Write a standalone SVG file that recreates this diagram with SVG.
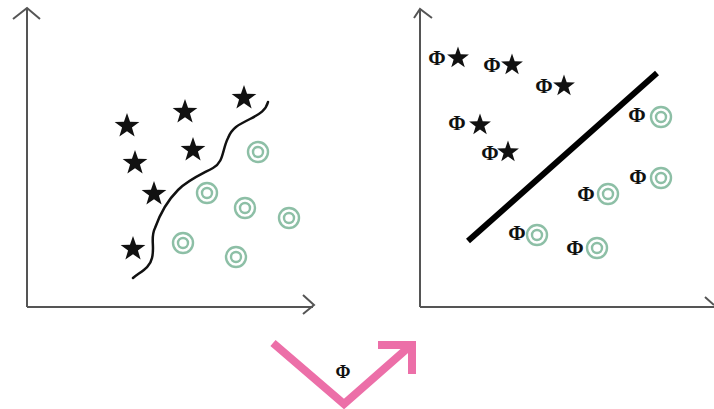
<svg xmlns="http://www.w3.org/2000/svg" width="714" height="409" viewBox="0 0 714 409">
<defs>
<style>
.axis{fill:none;stroke:#555;stroke-width:2;}
.circ{fill:none;stroke:#8dbfa6;stroke-width:2.4;}
.phi{font-family:"Liberation Serif","DejaVu Serif",serif;font-size:21px;font-weight:bold;fill:#111;text-anchor:middle;}
.star{fill:#111;}
</style>
<path id="starL" class="star" d="M0,-13 L3.06,-4.21 L12.36,-4.02 L4.94,1.61 L7.64,10.52 L0,5.2 L-7.64,10.52 L-4.94,1.61 L-12.36,-4.02 L-3.06,-4.21Z"/>
<path id="starR" class="star" d="M0,-11.5 L2.7,-3.72 L10.94,-3.55 L4.37,1.42 L6.76,9.3 L0,4.6 L-6.76,9.3 L-4.37,1.42 L-10.94,-3.55 L-2.7,-3.72Z"/>
<g id="ring"><circle class="circ" r="10"/><circle class="circ" r="5"/></g>
</defs>
<rect width="714" height="409" fill="#fff"/>
<g id="connectors">
<g id="left-axes">
<path class="axis" d="M27,307 V9 M13,19 L27,8 L40,19 M27,307 H313 M303,295 L314,305 L303,314"/>
</g>
<g id="right-axes">
<path class="axis" d="M420,307 V9 M414,18 L420,9 L432,18 M420,307 H714 M705,297 L714,305"/>
</g>
<path id="wavy-boundary" d="M133,278 C140,272 150,268 152,258 C155,246 150,238 155,228 C160,214 168,200 178,190 C188,180 200,175 213,168 C224,162 222,150 228,138 C232,128 238,125 250,119 C260,114 266,110 268,102" fill="none" stroke="#111" stroke-width="2.5" stroke-linecap="round"/>
<line id="linear-boundary" x1="468" y1="241" x2="657" y2="73" stroke="#000" stroke-width="6"/>
<g id="phi-arrow" fill="none" stroke="#ec6fa8" stroke-width="8">
<path d="M273,343 L344,404 L410,346"/>
<path d="M378,345 H412 V374"/>
</g>
</g>
<g id="left-panel">
<g id="ls1"><use href="#starL" x="127" y="126"/></g>
<g id="ls2"><use href="#starL" x="185" y="112"/></g>
<g id="ls3"><use href="#starL" x="244" y="98"/></g>
<g id="ls4"><use href="#starL" x="135" y="163"/></g>
<g id="ls5"><use href="#starL" x="193" y="150"/></g>
<g id="ls6"><use href="#starL" x="154" y="194"/></g>
<g id="ls7"><use href="#starL" x="133" y="249"/></g>
<g id="lc1"><use href="#ring" x="258" y="152"/></g>
<g id="lc2"><use href="#ring" x="207" y="193"/></g>
<g id="lc3"><use href="#ring" x="245" y="208"/></g>
<g id="lc4"><use href="#ring" x="289" y="218"/></g>
<g id="lc5"><use href="#ring" x="183" y="243"/></g>
<g id="lc6"><use href="#ring" x="236" y="257"/></g>
</g>
<g id="right-panel">
<g id="rs1"><text class="phi" x="437" y="65">Φ</text><use href="#starR" x="458" y="58"/></g>
<g id="rs2"><text class="phi" x="492" y="72">Φ</text><use href="#starR" x="512" y="65"/></g>
<g id="rs3"><text class="phi" x="544" y="93">Φ</text><use href="#starR" x="564" y="86"/></g>
<g id="rs4"><text class="phi" x="457" y="130">Φ</text><use href="#starR" x="480" y="125"/></g>
<g id="rs5"><text class="phi" x="490" y="160">Φ</text><use href="#starR" x="508" y="152"/></g>
<g id="rc1"><text class="phi" x="637" y="122">Φ</text><use href="#ring" x="661" y="117"/></g>
<g id="rc2"><text class="phi" x="638" y="184">Φ</text><use href="#ring" x="661" y="178"/></g>
<g id="rc3"><text class="phi" x="586" y="201">Φ</text><use href="#ring" x="608" y="194"/></g>
<g id="rc4"><text class="phi" x="517" y="240">Φ</text><use href="#ring" x="537" y="235"/></g>
<g id="rc5"><text class="phi" x="575" y="255">Φ</text><use href="#ring" x="597" y="248"/></g>
</g>
<g id="arrow-label"><text class="phi" x="343" y="378" style="font-size:18px">Φ</text></g>
</svg>
